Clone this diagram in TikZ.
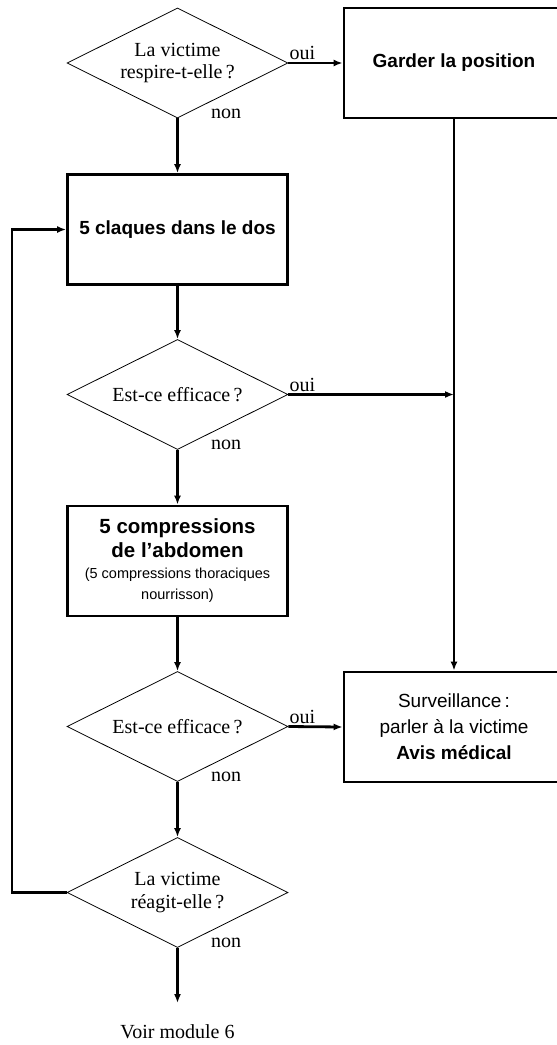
\documentclass[tikz,border=0pt]{standalone}
\usepackage{fontspec}
\setmainfont{Liberation Serif}
\setsansfont{Liberation Sans}
\usetikzlibrary{shapes.geometric,arrows.meta}
\begin{document}
\begin{tikzpicture}[x=1pt,y=-1pt,
  question/.style={diamond, draw, line width=0.8pt, inner sep=0pt, aspect=2,
    minimum width=221pt, minimum height=110pt, align=center,
    font=\fontsize{20}{22.5}\selectfont},
  action/.style={rectangle, draw, line width=2.8pt, inner sep=0pt,
    minimum width=220pt, minimum height=110pt, align=center,
    font=\sffamily\fontsize{19}{25}\selectfont},
  strong/.style={font=\sffamily\bfseries\fontsize{19}{25}\selectfont},
  flow/.style={line width=2.2pt, -{Latex[length=9pt,width=7pt]}},
  answer/.style={inner sep=0pt, font=\fontsize{20}{22}\selectfont}
]
\useasboundingbox (0,0) rectangle (557,1045);
\clip (0,0) rectangle (557,1045);

% decisions and actions
\node[question] (q1) at (177.5,63) {La victime\\respire-t-elle\,?};
\node[action, strong] (keep) at (454,63) {Garder la position};
\node[action, strong] (back) at (177.5,229.5) {5 claques dans le dos};
\node[question] (q2) at (177.5,394.5) {Est-ce efficace\,?};
\node[action, font=\sffamily\bfseries\fontsize{20.5}{24}\selectfont] (abdo) at (177.5,561)
  {5 compressions\\de l'abdomen\\[-3pt]
   {\mdseries\fontsize{14.5}{21}\selectfont (5 compressions thoraciques}\\[-3pt]
   {\mdseries\fontsize{14.5}{21}\selectfont nourrisson)}};
\node[question] (q3) at (177.5,726.5) {Est-ce efficace\,?};
\node[action, font=\sffamily\fontsize{19}{26}\selectfont] (watch) at (454,727)
  {Surveillance\,:\\parler à la victime\\\textbf{Avis médical}};
\node[question] (q4) at (177.5,892.5) {La victime\\réagit-elle\,?};
\coordinate (stop) at (177.5,1003);
\node[anchor=base, inner sep=0pt, font=\fontsize{20}{22}\selectfont] (next) at (177.5,1038) {Voir module 6};

% connectors
\draw[flow] (q1.east) -- (keep.west);
\draw[flow] (q1.south) -- (back.north);
\draw[flow] (back.south) -- (q2.north);
\draw[flow] (q2.east) -- (q2.east -| keep.south);
\draw[flow] (q2.south) -- (abdo.north);
\draw[flow] (abdo.south) -- (q3.north);
\draw[flow] (keep.south) -- (watch.north);
\draw[flow, line width=2.8pt] (q3.east) -- (watch.west);
\draw[flow] (q3.south) -- (q4.north);
\draw[flow] (q4.west) -- ++(-54.6,0) |- (back.west);
\draw[flow] (q4.south) -- (stop);

% branch labels
\node[answer, anchor=base west] (y1) at ([xshift=1pt,yshift=3.5pt]q1.east) {oui};
\node[answer, anchor=base west] (n1) at ([xshift=33.5pt]q1.south) {non};
\node[answer, anchor=base west] (y2) at ([xshift=1pt,yshift=3.5pt]q2.east) {oui};
\node[answer, anchor=base west] (n2) at ([xshift=33.5pt]q2.south) {non};
\node[answer, anchor=base west] (y3) at ([xshift=1pt,yshift=3.5pt]q3.east) {oui};
\node[answer, anchor=base west] (n3) at ([xshift=33.5pt]q3.south) {non};
\node[answer, anchor=base west] (n4) at ([xshift=33.5pt]q4.south) {non};
\end{tikzpicture}
\end{document}
